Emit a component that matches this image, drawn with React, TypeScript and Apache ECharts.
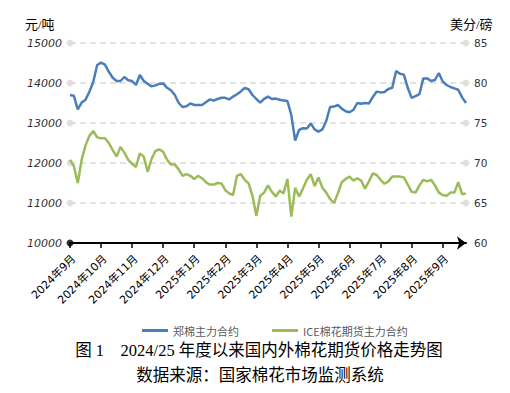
import React, { useEffect, useRef } from "react";
import * as echarts from "echarts";

const MONTH_LABELS = [
  "2024年9月", "2024年10月", "2024年11月", "2024年12月", "2025年1月", "2025年2月", "2025年3月",
  "2025年4月", "2025年5月", "2025年6月", "2025年7月", "2025年8月", "2025年9月",
];
const POINTS_PER_MONTH = 8;

// 郑棉主力合约 (元/吨)
const ZHENG = [
  13700, 13680, 13340, 13510, 13580, 13780, 14030, 14450, 14510, 14460,
  14280, 14130, 14050, 14050, 14150, 14070, 14050, 13950, 14200, 14050,
  13980, 13915, 13940, 13980, 13990, 13880, 13820, 13700, 13500, 13400,
  13420, 13490, 13450, 13450, 13450, 13520, 13590, 13560, 13600, 13630,
  13630, 13590, 13660, 13720, 13790, 13875, 13845, 13700, 13600, 13510,
  13605, 13660, 13600, 13610, 13580, 13565, 13550, 13200, 12560, 12825,
  12870, 12860, 12990, 12840, 12785, 12840, 13050, 13400, 13410, 13450,
  13360, 13295, 13270, 13330, 13500, 13480, 13500, 13490, 13650, 13785,
  13765, 13775, 13850, 13880, 14300, 14230, 14210, 13880, 13630, 13670,
  13720, 14115, 14115, 14050, 14075, 14250, 14040, 13950, 13900, 13865,
  13830, 13640, 13500,
];

// ICE棉花期货主力合约 (美分/磅)
const ICE = [
  70.4, 69.6, 67.5, 70.4, 72.2, 73.4, 74.0, 73.2, 73.1, 73.1,
  72.5, 71.6, 70.8, 72.0, 71.3, 70.4, 69.9, 69.5, 71.2, 70.8,
  68.9, 70.5, 71.5, 71.7, 71.4, 70.4, 69.8, 69.8, 69.2, 68.4,
  68.6, 68.4, 68.0, 68.4, 68.1, 67.6, 67.3, 67.3, 67.5, 67.45,
  66.6, 66.2, 66.0, 68.4, 68.6, 67.9, 67.45, 65.9, 63.4, 65.9,
  66.3, 67.2, 66.4, 65.8, 66.55, 66.2, 68.0, 63.3, 66.9, 65.8,
  66.8, 67.9, 68.6, 67.1, 68.2, 66.9, 66.3, 65.5, 65.0, 66.2,
  67.6, 68.0, 68.3, 67.8, 68.1, 67.8, 66.8, 67.7, 68.7, 68.5,
  67.9, 67.4, 67.7, 68.3, 68.3, 68.3, 68.2, 67.3, 66.4, 66.3,
  67.2, 67.9, 67.7, 67.9, 67.2, 66.3, 66.0, 65.9, 66.3, 66.3,
  67.6, 66.1, 66.2,
];

const LEFT_GRID_VALUES = [11000, 12000, 13000, 14000, 15000];
const LEFT_ORIGIN = [10000];
const RIGHT_GRID_VALUES = [65, 70, 75, 80, 85];

const SERIES_NAMES = ["郑棉主力合约", "ICE棉花期货主力合约"];
const SERIES_COLORS = ["#4a7ebb", "#9bbb59"];
const LEFT_UNIT = "元/吨";
const RIGHT_UNIT = "美分/磅";
const TITLE = "图 1    2024/25 年度以来国内外棉花期货价格走势图";
const SOURCE = "数据来源：国家棉花市场监测系统";

export default function App() {
  const ref = useRef<HTMLDivElement>(null);

  useEffect(() => {
    if (!ref.current) return;
    const chart = echarts.init(ref.current, undefined, { renderer: "svg" });
    const categories = ZHENG.map((_, i) => {
      const m = Math.floor(i / POINTS_PER_MONTH);
      const k = i % POINTS_PER_MONTH;
      return k === 0 ? MONTH_LABELS[m] : `${MONTH_LABELS[m]}#${k}`;
    });
    const last = ZHENG.length - 1;
    const serifCjk = '"Liberation Serif", "Noto Sans CJK SC", serif';

    chart.setOption({
      animation: false,
      backgroundColor: "#ffffff",
      grid: { left: 70, right: 44, top: 43, bottom: 150, containLabel: false },
      legend: {
        data: SERIES_NAMES.map((n) => ({ name: n, icon: "rect" })),
        left: 137,
        top: 320,
        itemWidth: 26,
        itemHeight: 3,
        itemGap: 33,
        textStyle: { fontSize: 11, color: "#595959", fontFamily: '"Noto Sans CJK SC", sans-serif' },
      },
      xAxis: {
        type: "category",
        boundaryGap: false,
        data: categories,
        axisLine: {
          show: true,
          lineStyle: { color: "#000", width: 2 },
          symbol: ["none", "arrow"],
          symbolSize: [10, 9],
        },
        axisTick: {
          show: true,
          interval: POINTS_PER_MONTH - 1,
          length: 5,
          lineStyle: { color: "#000", width: 1.5 },
        },
        axisLabel: {
          interval: POINTS_PER_MONTH - 1,
          rotate: 45,
          margin: 10,
          verticalAlign: "top",
          fontSize: 11,
          color: "#000",
          fontFamily: '"DejaVu Sans", "Noto Sans CJK SC", sans-serif',
          formatter: (v: string) => v.split("#")[0],
        },
        splitLine: { show: false },
      },
      yAxis: [
        {
          type: "value",
          min: 10000,
          max: 15000,
          interval: 1000,
          axisLine: { show: false },
          axisTick: { show: false },
          axisLabel: {
            margin: 8,
            fontSize: 11,
            fontStyle: "italic",
            color: "#333",
            fontFamily: '"DejaVu Sans", sans-serif',
            formatter: (v: number) => String(v),
          },
          splitLine: { show: true, lineStyle: { color: "#d9d9d9", width: 1.5, type: [6, 4] } },
        },
        {
          type: "value",
          position: "right",
          min: 60,
          max: 85,
          interval: 5,
          axisLine: { show: false },
          axisTick: { show: false },
          axisLabel: {
            margin: 8,
            fontSize: 10.5,
            color: "#333",
            fontFamily: '"DejaVu Sans", sans-serif',
            formatter: (v: number) => String(v),
          },
          splitLine: { show: false },
        },
      ],
      graphic: [
        {
          type: "text",
          x: 25,
          y: 24,
          style: { text: LEFT_UNIT, fontSize: 13, fill: "#000", fontFamily: serifCjk, align: "left", verticalAlign: "middle" },
        },
        {
          type: "text",
          x: 450,
          y: 24,
          style: { text: RIGHT_UNIT, fontSize: 13, fill: "#000", fontFamily: serifCjk, align: "left", verticalAlign: "middle" },
        },
        {
          type: "text",
          x: 259,
          y: 350,
          style: { text: TITLE, fontSize: 16.5, fill: "#000", fontFamily: serifCjk, align: "center", verticalAlign: "middle" },
        },
        {
          type: "text",
          x: 260,
          y: 375,
          style: { text: SOURCE, fontSize: 16.5, fill: "#000", fontFamily: serifCjk, align: "center", verticalAlign: "middle" },
        },
      ],
      series: [
        {
          name: "leftDots",
          type: "scatter",
          yAxisIndex: 0,
          symbolSize: 7,
          itemStyle: { color: "#d9d9d9" },
          data: LEFT_GRID_VALUES.map((v) => [0, v]),
          silent: true,
        },
        {
          name: "originDot",
          type: "scatter",
          yAxisIndex: 0,
          symbolSize: 7,
          itemStyle: { color: "#000" },
          data: LEFT_ORIGIN.map((v) => [0, v]),
          silent: true,
          z: 5,
        },
        {
          name: "rightDots",
          type: "scatter",
          yAxisIndex: 1,
          symbolSize: 7,
          itemStyle: { color: "#d9d9d9" },
          data: RIGHT_GRID_VALUES.map((v) => [last, v]),
          silent: true,
        },
        {
          name: SERIES_NAMES[0],
          type: "line",
          yAxisIndex: 0,
          data: ZHENG,
          symbol: "none",
          showSymbol: false,
          lineStyle: { color: SERIES_COLORS[0], width: 2.5 },
          itemStyle: { color: SERIES_COLORS[0] },
          z: 3,
        },
        {
          name: SERIES_NAMES[1],
          type: "line",
          yAxisIndex: 1,
          data: ICE,
          symbol: "none",
          showSymbol: false,
          lineStyle: { color: SERIES_COLORS[1], width: 2.5 },
          itemStyle: { color: SERIES_COLORS[1] },
          z: 3,
        },
      ],
    });
    return () => chart.dispose();
  }, []);

  return (
    <div
      ref={ref}
      style={{ position: "fixed", left: 0, top: 0, width: 510, height: 393, background: "#fff" }}
    />
  );
}
